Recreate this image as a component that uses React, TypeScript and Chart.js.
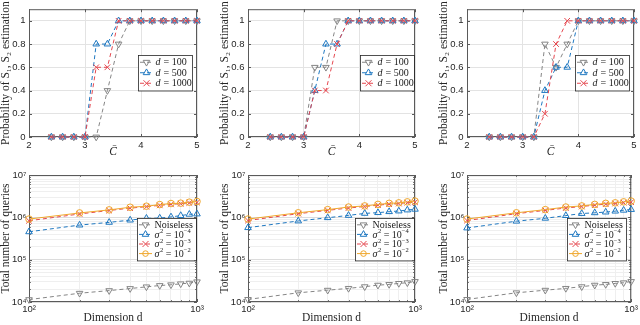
import React, { useEffect, useRef } from 'react';
import { Chart, registerables } from 'chart.js';

Chart.register(...registerables);

// ---------------- data ----------------
const C_VALUES = [2.4, 2.6, 2.8, 3.0, 3.2, 3.4, 3.6, 3.8, 4.0, 4.2, 4.4, 4.6, 4.8, 5.0];
const TOP_X_TICKS = [2, 3, 4, 5];
const TOP_Y_TICKS = [0, 0.2, 0.4, 0.6, 0.8, 1];

const P1_D100 = [0, 0, 0, 0, 0, 0.4, 0.8, 1, 1, 1, 1, 1, 1, 1];
const P1_D500 = [0, 0, 0, 0, 0.8, 0.8, 1, 1, 1, 1, 1, 1, 1, 1];
const P1_D1000 = [0, 0, 0, 0, 0.6, 0.6, 1, 1, 1, 1, 1, 1, 1, 1];

const P2_D100 = [0, 0, 0, 0, 0.6, 0.6, 1, 1, 1, 1, 1, 1, 1, 1];
const P2_D500 = [0, 0, 0, 0, 0.4, 0.8, 0.8, 1, 1, 1, 1, 1, 1, 1];
const P2_D1000 = [0, 0, 0, 0, 0.4, 0.4, 0.8, 1, 1, 1, 1, 1, 1, 1];

const P3_D100 = [0, 0, 0, 0, 0, 0.8, 0.6, 0.8, 1, 1, 1, 1, 1, 1];
const P3_D500 = [0, 0, 0, 0, 0, 0.4, 0.6, 0.6, 1, 1, 1, 1, 1, 1];
const P3_D1000 = [0, 0, 0, 0, 0, 0.2, 0.8, 1, 1, 1, 1, 1, 1, 1];

const D_VALUES = [100, 200, 300, 400, 500, 600, 700, 800, 900, 1000];
const LOG_X_MAJOR = [100, 1000];
const LOG_X_LABELS = ['10²', '10³'];
const LOG_Y_MAJOR = [1e4, 1e5, 1e6, 1e7];
const LOG_Y_LABELS = ['10⁴', '10⁵', '10⁶', '10⁷'];

const Q1_NOISELESS = [1.14e4, 1.61e4, 1.86e4, 2.08e4, 2.28e4, 2.45e4, 2.55e4, 2.69e4, 2.79e4, 3.0e4];
const Q1_S4 = [4.55e5, 6.56e5, 7.6e5, 8.6e5, 9.5e5, 9.6e5, 1.02e6, 1.1e6, 1.18e6, 1.2e6];
const Q1_S3 = [8.3e5, 1.2e6, 1.45e6, 1.65e6, 1.78e6, 1.92e6, 2.03e6, 2.1e6, 2.2e6, 2.25e6];
const Q1_S2 = [9.1e5, 1.27e6, 1.5e6, 1.73e6, 1.83e6, 2.0e6, 2.12e6, 2.16e6, 2.28e6, 2.37e6];

const Q2_NOISELESS = [1.15e4, 1.65e4, 1.9e4, 2.1e4, 2.3e4, 2.5e4, 2.6e4, 2.75e4, 2.85e4, 3.05e4];
const Q2_S4 = [5.7e5, 8.2e5, 9.8e5, 1.11e6, 1.24e6, 1.29e6, 1.36e6, 1.41e6, 1.49e6, 1.55e6];
const Q2_S3 = [8.4e5, 1.22e6, 1.46e6, 1.66e6, 1.8e6, 1.94e6, 2.05e6, 2.12e6, 2.22e6, 2.28e6];
const Q2_S2 = [9.1e5, 1.28e6, 1.52e6, 1.75e6, 1.86e6, 2.02e6, 2.14e6, 2.2e6, 2.32e6, 2.42e6];

const Q3_NOISELESS = [1.15e4, 1.65e4, 1.9e4, 2.1e4, 2.3e4, 2.5e4, 2.6e4, 2.75e4, 2.85e4, 3.05e4];
const Q3_S4 = [5.6e5, 8.1e5, 9.5e5, 1.1e6, 1.23e6, 1.28e6, 1.33e6, 1.4e6, 1.47e6, 1.53e6];
const Q3_S3 = [8.4e5, 1.22e6, 1.46e6, 1.66e6, 1.8e6, 1.94e6, 2.05e6, 2.12e6, 2.22e6, 2.28e6];
const Q3_S2 = [9.1e5, 1.28e6, 1.52e6, 1.75e6, 1.86e6, 2.02e6, 2.14e6, 2.2e6, 2.32e6, 2.42e6];

// ---------------- styling ----------------
const GRAY = '#858585';
const BLUE = '#1f78c1';
const RED = '#e5474f';
const ORANGE = '#f0a72c';
const TEXT = '#262626';
const SANS = '"Liberation Sans", Arial, sans-serif';
const SERIF = '"Liberation Serif", "Times New Roman", serif';

type Seg = [string, 'n' | 'i' | 's'];
const TOP_LABELS: Seg[][] = [
  [['d', 'i'], [' = 100', 'n']],
  [['d', 'i'], [' = 500', 'n']],
  [['d', 'i'], [' = 1000', 'n']],
];
const BOTTOM_LABELS: Seg[][] = [
  [['Noiseless', 'n']],
  [['σ', 'i'], ['2', 's'], [' = 10', 'n'], ['−4', 's']],
  [['σ', 'i'], ['2', 's'], [' = 10', 'n'], ['−3', 's']],
  [['σ', 'i'], ['2', 's'], [' = 10', 'n'], ['−2', 's']],
];

const COLS = [
  { left: 0, width: 213, padRight: 16 },
  { left: 219, width: 212, padRight: 16 },
  { left: 438, width: 202, padRight: 6 },
];
const ROWS = [
  { top: 0, height: 162, padTop: 5, xH: 25, titlePad: 4 },
  { top: 162, height: 163, padTop: 13, xH: 23, titlePad: 1 },
];
const Y_AXIS_W = 29;

function drawMarker(ctx: CanvasRenderingContext2D, style: string, rot: number, x: number, y: number, r: number, color: string) {
  ctx.save();
  ctx.strokeStyle = color;
  ctx.lineWidth = 1;
  ctx.setLineDash([]);
  ctx.beginPath();
  if (style === 'triangle') {
    let a = (rot * Math.PI) / 180;
    ctx.moveTo(x + Math.sin(a) * r, y - Math.cos(a) * r);
    a += (2 * Math.PI) / 3;
    ctx.lineTo(x + Math.sin(a) * r, y - Math.cos(a) * r);
    a += (2 * Math.PI) / 3;
    ctx.lineTo(x + Math.sin(a) * r, y - Math.cos(a) * r);
    ctx.closePath();
  } else if (style === 'crossRot') {
    const o = r * 0.75;
    ctx.moveTo(x - o, y - o);
    ctx.lineTo(x + o, y + o);
    ctx.moveTo(x + o, y - o);
    ctx.lineTo(x - o, y + o);
  } else {
    ctx.arc(x, y, r * 0.85, 0, Math.PI * 2);
  }
  ctx.stroke();
  ctx.restore();
}

const framePlugin = {
  id: 'frame',
  beforeDatasetsDraw(chart: any, _a: any, opts: any) {
    const { ctx, chartArea: a } = chart;
    const xs = chart.scales.x;
    const ys = chart.scales.y;
    ctx.save();
    ctx.strokeStyle = '#5a5a5a';
    ctx.lineWidth = 1;
    ctx.strokeRect(a.left + 0.5, a.top + 0.5, a.right - a.left - 1, a.bottom - a.top - 1);
    ctx.beginPath();
    (opts.xTicks || []).forEach((t: any) => {
      const p = Math.round(xs.getPixelForValue(t.v)) + 0.5;
      const len = t.major ? 3 : 1.8;
      ctx.moveTo(p, a.bottom);
      ctx.lineTo(p, a.bottom - len);
      ctx.moveTo(p, a.top);
      ctx.lineTo(p, a.top + len);
    });
    (opts.yTicks || []).forEach((t: any) => {
      const p = Math.round(ys.getPixelForValue(t.v)) + 0.5;
      const len = t.major ? 3 : 1.8;
      ctx.moveTo(a.left, p);
      ctx.lineTo(a.left + len, p);
      ctx.moveTo(a.right, p);
      ctx.lineTo(a.right - len, p);
    });
    ctx.stroke();
    ctx.restore();
  },
};

const boxLegendPlugin = {
  id: 'boxLegend',
  afterDraw(chart: any, _a: any, opts: any) {
    if (!opts || !opts.labels) return;
    const { ctx, chartArea: a } = chart;
    const ds = chart.data.datasets;
    const n = ds.length;
    const h = n * opts.rowH + 4;
    const w = opts.width;
    const x = Math.round(a.right - opts.right - w);
    const y = opts.top != null ? Math.round(a.top + opts.top) : Math.round((a.top + a.bottom) / 2 - h / 2);
    ctx.save();
    ctx.fillStyle = '#ffffff';
    ctx.fillRect(x, y, w, h);
    ctx.strokeStyle = '#262626';
    ctx.lineWidth = 0.8;
    ctx.strokeRect(x + 0.5, y + 0.5, w, h);
    ds.forEach((d: any, i: number) => {
      const cy = y + 2 + opts.rowH * (i + 0.5);
      ctx.strokeStyle = d.borderColor;
      ctx.lineWidth = d.borderWidth;
      ctx.setLineDash(d.borderDash || []);
      ctx.beginPath();
      ctx.moveTo(x + 2, cy);
      ctx.lineTo(x + 15, cy);
      ctx.stroke();
      ctx.setLineDash([]);
      drawMarker(ctx, d.pointStyle, d.pointRotation || 0, x + 8.5, cy, d.pointRadius, d.borderColor);
      let tx = x + 17.5;
      ctx.fillStyle = '#1a1a1a';
      ctx.textBaseline = 'middle';
      ctx.textAlign = 'left';
      for (const [t, k] of opts.labels[i] as Seg[]) {
        ctx.font = k === 's' ? `6.5px ${SERIF}` : `${k === 'i' ? 'italic ' : ''}10px ${SERIF}`;
        ctx.fillText(t, tx, k === 's' ? cy - 3 : cy + 0.5);
        tx += ctx.measureText(t).width + (k === 'i' ? 0.5 : 0);
      }
    });
    ctx.restore();
  },
};

function mkDs(label: string, xs: number[], ys: number[], color: string, style: string, rot: number, dashed: boolean, order: number) {
  return {
    label,
    data: xs.map((x, i) => ({ x, y: ys[i] })),
    borderColor: color,
    backgroundColor: color,
    borderWidth: 1,
    borderDash: dashed ? [4, 3] : [],
    pointStyle: style,
    pointRotation: rot,
    pointRadius: style === 'circle' ? 3.3 : style === 'crossRot' ? 4 : 3.8,
    pointBorderWidth: 1,
    pointBorderColor: color,
    pointBackgroundColor: 'rgba(0,0,0,0)',
    fill: false,
    tension: 0,
    clip: false,
    order,
  };
}

function logTicks(majors: number[]) {
  const t: { value: number }[] = [];
  for (let i = 0; i < majors.length; i++) {
    t.push({ value: majors[i] });
    if (i < majors.length - 1) for (let m = 2; m <= 9; m++) t.push({ value: majors[i] * m });
  }
  return t;
}

const tickFont = { family: SANS, size: 9.5 };
const titleFont = (italic: boolean) => ({ family: SERIF, size: 11.5, lineHeight: 1, style: italic ? 'italic' : 'normal' });

function topConfig(colIdx: number, d100: number[], d500: number[], d1000: number[], legendRight: number) {
  const col = COLS[colIdx];
  const row = ROWS[0];
  return {
    type: 'line',
    data: {
      datasets: [
        mkDs('d = 100', C_VALUES, d100, GRAY, 'triangle', 180, true, 3),
        mkDs('d = 500', C_VALUES, d500, BLUE, 'triangle', 0, true, 2),
        mkDs('d = 1000', C_VALUES, d1000, RED, 'crossRot', 0, true, 1),
      ],
    },
    options: {
      responsive: false,
      animation: false,
      devicePixelRatio: 1,
      layout: { padding: { left: 0, right: col.padRight, top: row.padTop, bottom: 0 } },
      plugins: {
        legend: { display: false },
        tooltip: { enabled: false },
        frame: {
          xTicks: TOP_X_TICKS.map((v) => ({ v, major: true })),
          yTicks: TOP_Y_TICKS.map((v) => ({ v, major: true })),
        },
        boxLegend: { labels: TOP_LABELS, right: legendRight, width: 54, rowH: 10.5 },
      },
      scales: {
        x: {
          type: 'linear',
          min: 2,
          max: 5,
          afterBuildTicks: (s: any) => {
            s.ticks = TOP_X_TICKS.map((v) => ({ value: v }));
          },
          afterFit: (s: any) => {
            s.height = row.xH;
          },
          grid: { color: '#e3e3e3', drawTicks: false },
          border: { display: false },
          ticks: { font: tickFont, color: TEXT, padding: 3, maxRotation: 0, autoSkip: false, callback: (v: any) => String(v) },
          title: { display: true, text: 'C̄', font: titleFont(true), color: TEXT, padding: { top: 0, bottom: row.titlePad } },
        },
        y: {
          type: 'linear',
          min: 0,
          max: 1.1,
          afterBuildTicks: (s: any) => {
            s.ticks = TOP_Y_TICKS.map((v) => ({ value: v }));
          },
          afterFit: (s: any) => {
            s.width = Y_AXIS_W;
          },
          grid: { color: '#e3e3e3', drawTicks: false },
          border: { display: false },
          ticks: { font: tickFont, color: TEXT, padding: 3.5, autoSkip: false, callback: (v: any) => String(Math.round(v * 10) / 10) },
          title: { display: true, text: 'Probability of Ŝ₁, Ŝ₂ estimation', font: titleFont(false), color: TEXT, padding: { top: 0, bottom: 0 } },
        },
      },
    },
    plugins: [framePlugin, boxLegendPlugin],
  };
}

function bottomConfig(colIdx: number, q0: number[], q4: number[], q3: number[], q2: number[], legendRight: number) {
  const col = COLS[colIdx];
  const row = ROWS[1];
  const xt = logTicks(LOG_X_MAJOR);
  const yt = logTicks(LOG_Y_MAJOR);
  const gridColor = (majors: number[]) => (c: any) => (c.tick && majors.includes(c.tick.value) ? '#dcdcdc' : '#efefef');
  return {
    type: 'line',
    data: {
      datasets: [
        mkDs('Noiseless', D_VALUES, q0, GRAY, 'triangle', 180, true, 4),
        mkDs('σ² = 10⁻⁴', D_VALUES, q4, BLUE, 'triangle', 0, true, 3),
        mkDs('σ² = 10⁻³', D_VALUES, q3, RED, 'crossRot', 0, true, 2),
        mkDs('σ² = 10⁻²', D_VALUES, q2, ORANGE, 'circle', 0, false, 1),
      ],
    },
    options: {
      responsive: false,
      animation: false,
      devicePixelRatio: 1,
      layout: { padding: { left: 0, right: col.padRight, top: row.padTop, bottom: 0 } },
      plugins: {
        legend: { display: false },
        tooltip: { enabled: false },
        frame: {
          xTicks: xt.map((t) => ({ v: t.value, major: LOG_X_MAJOR.includes(t.value) })),
          yTicks: yt.map((t) => ({ v: t.value, major: LOG_Y_MAJOR.includes(t.value) })),
        },
        boxLegend: { labels: BOTTOM_LABELS, right: legendRight, top: 43, width: 59, rowH: 9.6 },
      },
      scales: {
        x: {
          type: 'logarithmic',
          min: 100,
          max: 1000,
          afterBuildTicks: (s: any) => {
            s.ticks = logTicks(LOG_X_MAJOR);
          },
          afterFit: (s: any) => {
            s.height = row.xH;
          },
          grid: { color: gridColor(LOG_X_MAJOR), drawTicks: false },
          border: { display: false },
          ticks: {
            font: tickFont,
            color: TEXT,
            padding: 2,
            maxRotation: 0,
            autoSkip: false,
            callback: (v: any) => {
              const i = LOG_X_MAJOR.indexOf(v);
              return i >= 0 ? LOG_X_LABELS[i] : '';
            },
          },
          title: { display: true, text: 'Dimension d', font: titleFont(false), color: TEXT, padding: { top: 0, bottom: row.titlePad } },
        },
        y: {
          type: 'logarithmic',
          min: 1e4,
          max: 1e7,
          afterBuildTicks: (s: any) => {
            s.ticks = logTicks(LOG_Y_MAJOR);
          },
          afterFit: (s: any) => {
            s.width = Y_AXIS_W;
          },
          grid: { color: gridColor(LOG_Y_MAJOR), drawTicks: false },
          border: { display: false },
          ticks: {
            font: tickFont,
            color: TEXT,
            padding: 2.5,
            autoSkip: false,
            callback: (v: any) => {
              const i = LOG_Y_MAJOR.indexOf(v);
              return i >= 0 ? LOG_Y_LABELS[i] : '';
            },
          },
          title: { display: true, text: 'Total number of queries', font: titleFont(false), color: TEXT, padding: { top: 0, bottom: 0 } },
        },
      },
    },
    plugins: [framePlugin, boxLegendPlugin],
  };
}

function ChartCanvas({ left, top, width, height, make }: { left: number; top: number; width: number; height: number; make: () => any }) {
  const ref = useRef<HTMLCanvasElement>(null);
  useEffect(() => {
    const chart = new Chart(ref.current as HTMLCanvasElement, make());
    return () => chart.destroy();
  }, []);
  return <canvas ref={ref} width={width} height={height} style={{ position: 'absolute', left, top, width, height }} />;
}

export default function App() {
  const panels = [
    { c: 0, r: 0, make: () => topConfig(0, P1_D100, P1_D500, P1_D1000, 5) },
    { c: 1, r: 0, make: () => topConfig(1, P2_D100, P2_D500, P2_D1000, 1) },
    { c: 2, r: 0, make: () => topConfig(2, P3_D100, P3_D500, P3_D1000, 5) },
    { c: 0, r: 1, make: () => bottomConfig(0, Q1_NOISELESS, Q1_S4, Q1_S3, Q1_S2, 1) },
    { c: 1, r: 1, make: () => bottomConfig(1, Q2_NOISELESS, Q2_S4, Q2_S3, Q2_S2, 1) },
    { c: 2, r: 1, make: () => bottomConfig(2, Q3_NOISELESS, Q3_S4, Q3_S3, Q3_S2, 5) },
  ];
  return (
    <div style={{ position: 'fixed', left: 0, top: 0, width: 640, height: 325, background: '#ffffff', overflow: 'hidden' }}>
      {panels.map((p, i) => (
        <ChartCanvas
          key={i}
          left={COLS[p.c].left}
          top={ROWS[p.r].top}
          width={COLS[p.c].width}
          height={ROWS[p.r].height}
          make={p.make}
        />
      ))}
    </div>
  );
}
